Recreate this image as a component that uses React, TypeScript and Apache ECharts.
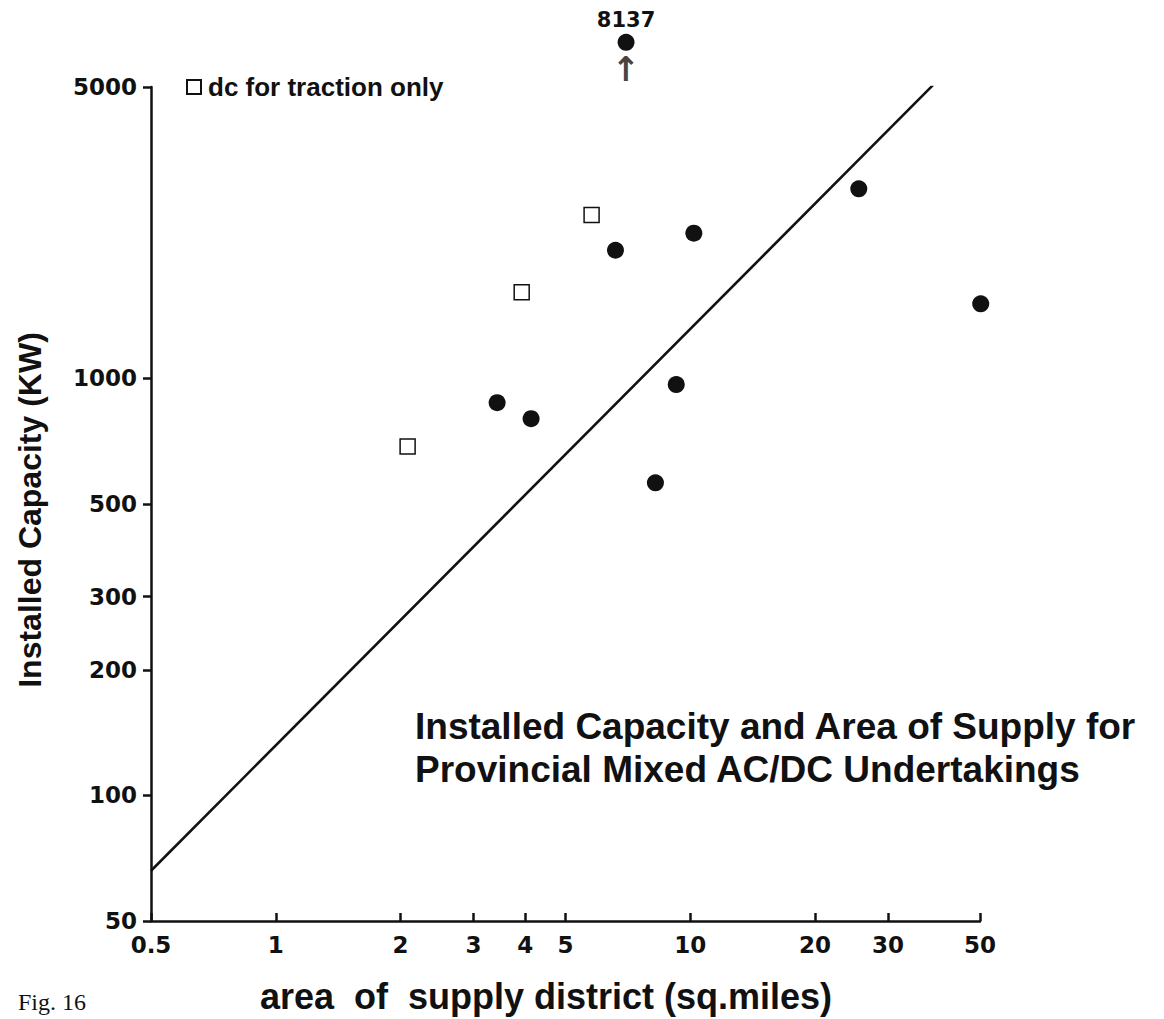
import React, { useEffect, useRef } from "react";
import * as echarts from "echarts";

// ---- data ----
const acdcArea = [6.6, 10.2, 25.5, 50.2, 9.25, 3.42, 4.13, 8.24];
const acdcCapacity = [2030, 2230, 2850, 1510, 967, 875, 801, 562];

const dcArea = [5.78, 3.92, 2.08];
const dcCapacity = [2466, 1610, 687];

// off-scale point: real value 8137 kW, drawn just above the top of the axis
const outlierArea = 7.0;
const outlierValue = 8137;
const outlierPlotCapacity = 6400;

const trendArea = [0.5, 38.5];
const trendCapacity = [66, 5050];

const xTicks = [0.5, 1, 2, 3, 4, 5, 10, 20, 30, 50];
const yTicks = [50, 100, 200, 300, 500, 1000, 5000];

const legendLabel = "dc for traction only";
const titleLines = [
  "Installed Capacity and Area of Supply for",
  "Provincial Mixed AC/DC Undertakings",
];
const xName = "area  of  supply district (sq.miles)";
const yName = "Installed Capacity (KW)";
const figLabel = "Fig. 16";

const INK = "#111111";
const SANS = "'Liberation Sans', Arial, Helvetica, sans-serif";
const HEAVY = "'DejaVu Sans', 'Liberation Sans', sans-serif";

export default function App() {
  const ref = useRef<HTMLDivElement>(null);

  useEffect(() => {
    if (!ref.current) return;
    const chart = echarts.init(ref.current, undefined, { renderer: "svg" });

    const zip = (a: number[], b: number[]) => a.map((v, i) => [v, b[i]]);

    const option: any = {
      animation: false,
      backgroundColor: "#ffffff",
      title: {
        text: titleLines.join("\n"),
        left: 415,
        top: 705,
        padding: 0,
        textStyle: {
          fontFamily: SANS,
          fontWeight: "bold",
          fontSize: 37,
          lineHeight: 43,
          color: INK,
        },
      },
      legend: {
        data: [legendLabel],
        left: 186,
        top: 74,
        padding: 0,
        itemWidth: 14,
        itemHeight: 14,
        textStyle: {
          fontFamily: SANS,
          fontWeight: "bold",
          fontSize: 26,
          color: INK,
          padding: [0, 0, 0, 2],
        },
      },
      grid: {
        left: 151,
        top: 87,
        right: 184,
        bottom: 98,
        containLabel: false,
        outerBoundsMode: "none",
      },
      xAxis: {
        type: "log",
        logBase: 10,
        min: 0.5,
        max: 50,
        name: xName,
        nameLocation: "middle",
        nameGap: 56,
        nameTextStyle: {
          fontFamily: SANS,
          fontWeight: "bold",
          fontSize: 36,
          lineHeight: 38,
          color: INK,
          padding: [0, 39, 0, 0],
        },
        axisLine: { show: true, lineStyle: { color: INK, width: 2.5 } },
        axisTick: {
          show: true,
          inside: true,
          length: 8,
          lineStyle: { color: INK, width: 2.5 },
          customValues: xTicks,
        },
        axisLabel: {
          show: true,
          margin: 12,
          fontFamily: HEAVY,
          fontWeight: "bold",
          fontSize: 23,
          color: INK,
          customValues: xTicks,
          formatter: (v: number) => String(v),
        },
        splitLine: { show: false },
        minorTick: { show: false },
      },
      yAxis: {
        type: "log",
        logBase: 10,
        min: 50,
        max: 5000,
        name: yName,
        nameLocation: "middle",
        nameGap: 105,
        nameTextStyle: {
          fontFamily: SANS,
          fontWeight: "bold",
          fontSize: 32,
          color: INK,
          padding: [0, 12, 0, 0],
        },
        axisLine: { show: true, lineStyle: { color: INK, width: 2.5 } },
        axisTick: {
          show: true,
          inside: false,
          length: 8,
          lineStyle: { color: INK, width: 2.5 },
          customValues: yTicks,
        },
        axisLabel: {
          show: true,
          margin: 14,
          fontFamily: HEAVY,
          fontWeight: "bold",
          fontSize: 23,
          color: INK,
          customValues: yTicks,
          formatter: (v: number) => String(v),
        },
        splitLine: { show: false },
        minorTick: { show: false },
      },
      graphic: [
        {
          type: "text",
          left: 18,
          top: 990,
          style: {
            text: figLabel,
            font: "24px 'Liberation Serif', 'Times New Roman', serif",
            fill: INK,
          },
        },
      ],
      series: [
        {
          name: "trend",
          type: "line",
          data: zip(trendArea, trendCapacity),
          symbol: "none",
          lineStyle: { color: INK, width: 2.6 },
          silent: true,
          z: 2,
        },
        {
          name: "ac/dc",
          type: "scatter",
          clip: false,
          data: zip(acdcArea, acdcCapacity),
          symbol: "circle",
          symbolSize: 17,
          itemStyle: { color: INK, opacity: 1 },
          z: 3,
        },
        {
          name: legendLabel,
          type: "scatter",
          data: zip(dcArea, dcCapacity),
          symbol: "rect",
          symbolSize: 15,
          itemStyle: { color: "#ffffff", borderColor: INK, borderWidth: 1.5, opacity: 1 },
          z: 3,
        },
        {
          name: "outlier",
          type: "scatter",
          clip: false,
          data: [[outlierArea, outlierPlotCapacity]],
          symbol: "circle",
          symbolSize: 17,
          itemStyle: { color: INK, opacity: 1 },
          label: {
            show: true,
            position: "top",
            distance: 3,
            formatter: () => String(outlierValue),
            fontFamily: HEAVY,
            fontWeight: "bold",
            fontSize: 21,
            color: INK,
          },
          z: 3,
        },
        {
          name: "outlier-arrow",
          type: "scatter",
          clip: false,
          silent: true,
          data: [[outlierArea, outlierPlotCapacity]],
          symbol: "circle",
          symbolSize: 1,
          itemStyle: { color: "rgba(0,0,0,0)" },
          label: {
            show: true,
            position: "bottom",
            distance: 9,
            formatter: () => "↑",
            fontFamily: HEAVY,
            fontWeight: "bold",
            fontSize: 34,
            color: INK,
          },
          z: 3,
        },
      ],
    };

    chart.setOption(option);
    return () => chart.dispose();
  }, []);

  return (
    <div
      ref={ref}
      style={{ position: "absolute", left: 0, top: 0, width: 1164, height: 1019, background: "#fff" }}
    />
  );
}
